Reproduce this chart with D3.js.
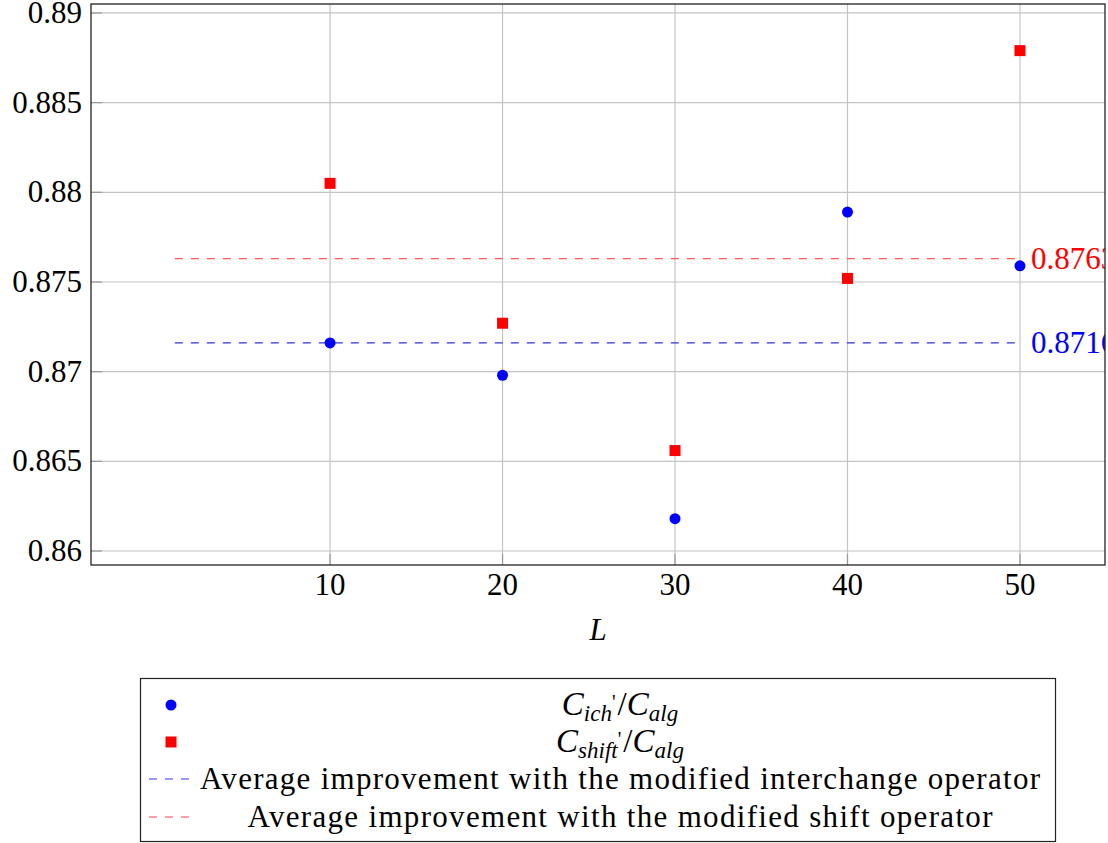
<!DOCTYPE html>
<meta charset="utf-8">
<style>
    body { margin: 0; background: #fff; }
    text { font-family: "Liberation Serif", "DejaVu Serif", serif; }
</style>
<body>
<svg width="1108" height="843"></svg>
<script src="https://d3js.org/d3.v7.min.js"></script>
<script>
    // values
    var lengths = [10, 20, 30, 40, 50];
    var ichRatio = [0.8716, 0.8698, 0.8618, 0.8789, 0.8759];
    var shiftRatio = [0.8805, 0.8727, 0.8656, 0.8752, 0.8879];
    var avgIch = 0.8716;
    var avgShift = 0.8763;
    var avgRange = [1, 50];
    var yTicks = [0.86, 0.865, 0.87, 0.875, 0.88, 0.885, 0.89];
    var xTicks = [10, 20, 30, 40, 50];

    var svg = d3.select("svg");
    var plotLeft = 91, plotRight = 1105, plotTop = 4, plotBottom = 565;

    var x = d3.scaleLinear().domain([-3.86, 54.93]).range([plotLeft, plotRight]);
    var y = d3.scaleLinear().domain([0.85922, 0.89050]).range([plotBottom, plotTop]);

    var grid = svg.append("g");
    // grid lines
    grid.selectAll(".gy").data(yTicks).enter().append("line")
        .attr("x1", plotLeft).attr("x2", plotRight)
        .attr("y1", function(d) { return y(d); }).attr("y2", function(d) { return y(d); })
        .attr("stroke", "#c4c4c4").attr("stroke-width", 1.2);
    grid.selectAll(".gx").data(xTicks).enter().append("line")
        .attr("y1", plotTop).attr("y2", plotBottom)
        .attr("x1", function(d) { return x(d); }).attr("x2", function(d) { return x(d); })
        .attr("stroke", "#c4c4c4").attr("stroke-width", 1.2);
    // small tick marks
    grid.selectAll(".ty").data(yTicks).enter().append("line")
        .attr("x1", plotLeft).attr("x2", plotLeft + 11)
        .attr("y1", function(d) { return y(d); }).attr("y2", function(d) { return y(d); })
        .attr("stroke", "#999").attr("stroke-width", 1.2);
    grid.selectAll(".tx").data(xTicks).enter().append("line")
        .attr("y1", plotBottom).attr("y2", plotBottom - 11)
        .attr("x1", function(d) { return x(d); }).attr("x2", function(d) { return x(d); })
        .attr("stroke", "#999").attr("stroke-width", 1.2);

    // tick labels
    svg.selectAll(".yl").data(yTicks).enter().append("text")
        .attr("x", plotLeft - 9).attr("y", function(d) { return y(d) + 10; })
        .attr("text-anchor", "end").attr("font-size", 31)
        .text(function(d) { return String(d); });
    svg.selectAll(".xl").data(xTicks).enter().append("text")
        .attr("x", function(d) { return x(d); }).attr("y", 595)
        .attr("text-anchor", "middle").attr("font-size", 31)
        .text(function(d) { return d; });
    svg.append("text").attr("x", 598).attr("y", 640)
        .attr("text-anchor", "middle").attr("font-size", 31).attr("font-style", "italic")
        .text("L");

    // average lines
    var clip = svg.append("clipPath").attr("id", "plotclip");
    clip.append("rect").attr("x", plotLeft).attr("y", plotTop)
        .attr("width", plotRight - plotLeft).attr("height", plotBottom - plotTop);

    var avgs = [
        { v: avgIch, color: "#0000ff", lineColor: "#3333cc", label: "0.8716" },
        { v: avgShift, color: "#ff0000", lineColor: "#ff5555", label: "0.8763" }
    ];
    svg.selectAll(".avg").data(avgs).enter().append("line")
        .attr("x1", x(avgRange[0])).attr("x2", x(avgRange[1]))
        .attr("y1", function(d) { return y(d.v); }).attr("y2", function(d) { return y(d.v); })
        .attr("stroke", function(d) { return d.lineColor; })
        .attr("stroke-width", 1.2).attr("stroke-dasharray", "8,8");
    svg.append("g").attr("clip-path", "url(#plotclip)")
        .selectAll("text").data(avgs).enter().append("text")
        .attr("x", x(avgRange[1]) + 11).attr("y", function(d) { return y(d.v) + 10; })
        .attr("font-size", 31).attr("fill", function(d) { return d.color; })
        .text(function(d) { return d.label; });

    // markers
    svg.selectAll(".dot").data(lengths).enter().append("circle")
        .attr("cx", function(d) { return x(d); })
        .attr("cy", function(d, i) { return y(ichRatio[i]); })
        .attr("r", 5.5).attr("fill", "#0000ff");
    svg.selectAll(".sq").data(lengths).enter().append("rect")
        .attr("x", function(d) { return x(d) - 5.5; })
        .attr("y", function(d, i) { return y(shiftRatio[i]) - 5.5; })
        .attr("width", 11).attr("height", 11).attr("fill", "#ff0000");

    // frame
    svg.append("rect").attr("x", plotLeft).attr("y", plotTop)
        .attr("width", plotRight - plotLeft).attr("height", plotBottom - plotTop)
        .attr("fill", "none").attr("stroke", "#222").attr("stroke-width", 1.3);

    // legend
    var lg = svg.append("g");
    lg.append("rect").attr("x", 140.5).attr("y", 678.5).attr("width", 915).attr("height", 163)
        .attr("fill", "none").attr("stroke", "#222").attr("stroke-width", 1.2);
    var rowY = [705, 742, 779, 817];
    lg.append("circle").attr("cx", 171).attr("cy", rowY[0]).attr("r", 5.5).attr("fill", "#0000ff");
    lg.append("rect").attr("x", 165.5).attr("y", rowY[1] - 5.5).attr("width", 11).attr("height", 11).attr("fill", "#ff0000");
    lg.append("line").attr("x1", 148).attr("x2", 194).attr("y1", rowY[2]).attr("y2", rowY[2])
        .attr("stroke", "#3333ee").attr("stroke-width", 1.2).attr("stroke-dasharray", "8,8").attr("stroke-dashoffset", -1);
    lg.append("line").attr("x1", 148).attr("x2", 194).attr("y1", rowY[3]).attr("y2", rowY[3])
        .attr("stroke", "#ff4444").attr("stroke-width", 1.2).attr("stroke-dasharray", "8,8").attr("stroke-dashoffset", -1);

    function ratioLabel(row, sub) {
        var t = lg.append("text").attr("x", 620).attr("y", rowY[row] + 10)
            .attr("text-anchor", "middle").attr("font-size", 33).attr("font-style", "italic");
        t.append("tspan").text("C");
        t.append("tspan").attr("font-size", 23).attr("dy", 6).text(sub);
        t.append("tspan").attr("font-size", 20).attr("dy", -12).attr("font-style", "normal").text("'");
        t.append("tspan").attr("dy", 6).attr("dx", 2).attr("font-style", "normal").text("/");
        t.append("tspan").text("C");
        t.append("tspan").attr("font-size", 23).attr("dy", 6).text("alg");
    }
    ratioLabel(0, "ich");
    ratioLabel(1, "shift");
    lg.append("text").attr("x", 620).attr("y", rowY[2] + 10).attr("text-anchor", "middle").attr("font-size", 31)
        .attr("textLength", 840).attr("lengthAdjust", "spacing")
        .text("Average improvement with the modified interchange operator");
    lg.append("text").attr("x", 620).attr("y", rowY[3] + 10).attr("text-anchor", "middle").attr("font-size", 31)
        .attr("textLength", 745).attr("lengthAdjust", "spacing")
        .text("Average improvement with the modified shift operator");
</script>
</body>
